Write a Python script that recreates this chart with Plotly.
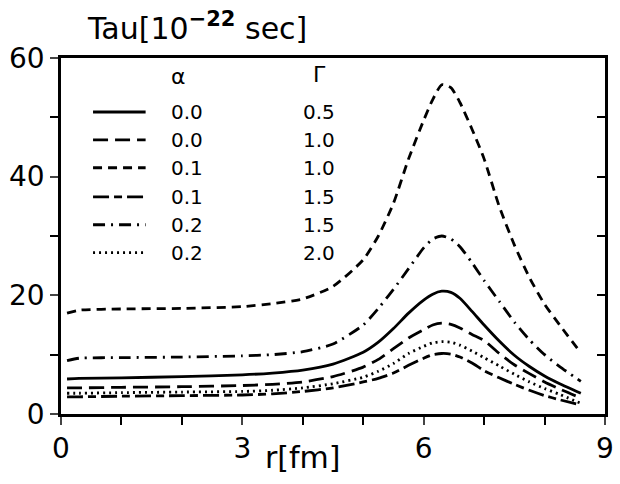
import plotly.graph_objects as go

# r [fm] sample positions
r = [0.1, 0.3, 1.0, 2.0, 3.0, 3.5, 4.0, 4.5, 5.0, 5.25, 5.5, 5.75, 6.0, 6.15, 6.3,
     6.45, 6.6, 6.8, 7.0, 7.25, 7.5, 7.75, 8.0, 8.25, 8.6]

tau_a00_g05 = [5.9, 6.0, 6.1, 6.3, 6.6, 6.9, 7.4, 8.4, 10.4, 12.1, 14.4, 17.0, 19.2, 20.2, 20.7,
               20.5, 19.5, 17.3, 15.0, 12.3, 9.9, 8.0, 6.4, 5.1, 3.5]
tau_a00_g10 = [4.4, 4.4, 4.5, 4.6, 4.8, 5.0, 5.4, 6.3, 7.9, 9.2, 11.0, 12.8, 14.2, 15.0, 15.3,
               15.1, 14.5, 13.4, 12.4, 10.2, 8.3, 6.8, 5.4, 4.2, 2.7]
tau_a01_g10 = [17.0, 17.5, 17.7, 17.8, 18.1, 18.6, 19.4, 21.5, 26.0, 30.0, 35.5, 43.0, 49.5, 53.0, 55.5,
               55.0, 52.5, 48.0, 43.0, 35.0, 28.5, 23.0, 18.5, 15.0, 10.3]
tau_a01_g15 = [2.9, 2.9, 3.0, 3.1, 3.2, 3.4, 3.8, 4.4, 5.4, 6.0, 6.9, 8.2, 9.4, 10.0, 10.2,
               10.1, 9.6, 8.6, 7.3, 6.1, 5.0, 4.0, 3.1, 2.4, 1.5]
tau_a02_g15 = [9.0, 9.4, 9.5, 9.6, 9.8, 10.0, 10.5, 11.8, 15.0, 17.8, 21.0, 24.5, 28.0, 29.5, 30.0,
               29.5, 28.2, 25.5, 22.5, 19.0, 15.5, 12.5, 10.0, 8.0, 5.5]
tau_a02_g20 = [3.5, 3.5, 3.6, 3.7, 3.8, 4.0, 4.4, 5.1, 6.2, 7.2, 8.5, 10.2, 11.4, 12.0, 12.2,
               12.1, 11.6, 10.6, 9.5, 8.1, 6.7, 5.4, 4.3, 3.3, 1.8]

alpha_labels = ["0.0", "0.0", "0.1", "0.1", "0.2", "0.2"]
gamma_labels = ["0.5", "1.0", "1.0", "1.5", "1.5", "2.0"]
series = [tau_a00_g05, tau_a00_g10, tau_a01_g10, tau_a01_g15, tau_a02_g15, tau_a02_g20]
dashes = ["solid", "15px,7px", "9px,6px", "16px,5px,8px,5px", "12px,6px,2px,6px", "2px,4px"]

x_major = [0, 3, 6, 9]
y_major = [0, 20, 40, 60]
y_right_ticks = [10, 20, 30, 40, 50]

FONT = "DejaVu Sans"
fig = go.Figure()
for ys, d in zip(series, dashes):
    fig.add_trace(go.Scatter(x=r, y=ys, mode="lines",
                             line=dict(color="black", width=2.8, dash=d, shape="spline", smoothing=0.6),
                             showlegend=False, hoverinfo="skip"))

# invisible trace to host right axis
fig.add_trace(go.Scatter(x=[0], y=[0], yaxis="y2", mode="lines", line=dict(width=0),
                         showlegend=False, hoverinfo="skip"))

# legend (key drawn with shapes + text annotations)
leg_y = [50.9, 46.2, 41.5, 36.6, 31.9, 27.2]
for yy, d, a, g in zip(leg_y, dashes, alpha_labels, gamma_labels):
    fig.add_shape(type="line", x0=0.53, x1=1.40, y0=yy, y1=yy, xref="x", yref="y",
                  line=dict(color="black", width=2.8, dash=d))
    fig.add_annotation(x=1.78, y=yy, text=a, xref="x", yref="y", showarrow=False,
                       xanchor="left", yanchor="middle", font=dict(family=FONT, size=20, color="black"))
    fig.add_annotation(x=3.97, y=yy, text=g, xref="x", yref="y", showarrow=False,
                       xanchor="left", yanchor="middle", font=dict(family=FONT, size=20, color="black"))
fig.add_annotation(x=1.94, y=56.8, text="α", xref="x", yref="y", showarrow=False,
                   xanchor="center", yanchor="middle", font=dict(family=FONT, size=22, color="black"))
fig.add_annotation(x=4.27, y=57.2, text="Γ", xref="x", yref="y", showarrow=False,
                   xanchor="center", yanchor="middle", font=dict(family=FONT, size=22, color="black"))

# titles
fig.add_annotation(x=0.045, y=1.0, xref="paper", yref="paper", yanchor="bottom", xanchor="left",
                   text="Tau[10<sup><b>−22</b></sup> sec]", showarrow=False, yshift=10,
                   font=dict(family=FONT, size=30, color="black"))
fig.add_annotation(x=4.0, y=0, xref="x", yref="paper", yanchor="top", xanchor="center",
                   text="r[fm]", showarrow=False, yshift=-24,
                   font=dict(family=FONT, size=30, color="black"))

fig.update_layout(
    width=620, height=484,
    margin=dict(l=61, r=15, t=58, b=70, autoexpand=False),
    paper_bgcolor="white", plot_bgcolor="white",
    showlegend=False,
    xaxis=dict(range=[0, 9], tickvals=x_major, ticks="outside", ticklen=8, tickwidth=2,
               showline=True, linecolor="black", linewidth=2.5, mirror=True, automargin=False,
               showgrid=False, zeroline=False,
               tickfont=dict(family=FONT, size=28, color="black"),
               minor=dict(dtick=1, ticks="outside", ticklen=8, tickwidth=2, tickcolor="black", showgrid=False)),
    yaxis=dict(range=[0, 60], tickvals=y_major, ticks="outside", ticklen=8, tickwidth=2,
               showline=True, linecolor="black", linewidth=2.5, mirror=True, automargin=False,
               showgrid=False, zeroline=False,
               tickfont=dict(family=FONT, size=28, color="black"),
               minor=dict(dtick=10, ticks="outside", ticklen=8, tickwidth=2, tickcolor="black", showgrid=False)),
    yaxis2=dict(range=[0, 60], overlaying="y", side="right", tickvals=y_right_ticks,
                ticks="inside", ticklen=8, tickwidth=2, tickcolor="black", automargin=False,
                showticklabels=False, showgrid=False, zeroline=False, showline=False),
)

fig.write_html("out.html", config={"displayModeBar": False},
               post_script="document.body.style.margin='0';")
